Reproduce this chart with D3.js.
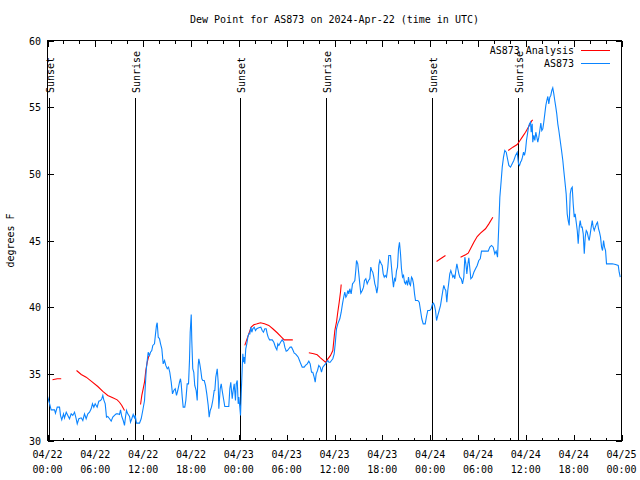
<!DOCTYPE html>
<html><head><meta charset="utf-8">
<script src="https://cdn.jsdelivr.net/npm/d3@7"></script>
<style>
html,body{margin:0;padding:0;background:#fff;}
svg text{font-family:"DejaVu Sans Mono","Liberation Mono",monospace;font-size:10px;fill:#000;}
</style></head>
<body><svg id="c" width="640" height="480"></svg>
<script>
// ---- data (hours since 2024-04-22 00:00 UTC, dew point °F) ----
const chartTitle = "Dew Point for AS873 on 2024-Apr-22 (time in UTC)";
const yLabel = "degrees F";
const seriesNames = ["AS873 Analysis", "AS873"];
const seriesColors = ["#ff0000", "#0a84ff"];
const yTicks = [30, 35, 40, 45, 50, 55, 60];
const xTickHours = [0, 6, 12, 18, 24, 30, 36, 42, 48, 54, 60, 66, 72];
const xTickLabels = [["04/22","00:00"],["04/22","06:00"],["04/22","12:00"],["04/22","18:00"],
  ["04/23","00:00"],["04/23","06:00"],["04/23","12:00"],["04/23","18:00"],
  ["04/24","00:00"],["04/24","06:00"],["04/24","12:00"],["04/24","18:00"],["04/25","00:00"]];
const sunHours = [0.29, 11.08, 24.25, 35.04, 48.33, 59.12];
const sunLabels = ["Sunset", "Sunrise", "Sunset", "Sunrise", "Sunset", "Sunrise"];

const observed = [[0,33.3],[0.21,32.87],[0.46,32.3],[0.88,32.3],[1.0,32.05],[1.22,32.5],[1.51,32.5],[1.63,31.88],[1.79,31.55],[2.01,32.0],[2.13,31.7],[2.35,32.12],[2.55,31.88],[2.76,31.63],[2.97,32.0],[3.17,31.88],[3.39,32.12],[3.6,31.63],[3.73,31.25],[3.93,31.63],[4.23,31.7],[4.43,31.5],[4.64,32.0],[4.85,31.63],[5.06,32.0],[5.27,32.12],[5.48,32.38],[5.64,32.75],[5.81,32.5],[5.98,32.75],[6.23,32.5],[6.44,32.95],[6.65,33.0],[6.81,33.13],[6.94,33.38],[7.06,33.05],[7.24,32.75],[7.4,31.75],[7.56,31.8],[7.78,31.63],[7.99,31.45],[8.19,31.75],[8.4,31.88],[8.62,32.0],[8.82,32.0],[9.03,31.95],[9.16,32.3],[9.32,31.8],[9.5,31.5],[9.66,31.13],[9.78,31.75],[9.91,32.25],[10.07,32.0],[10.29,31.8],[10.41,31.37],[10.57,31.63],[10.75,31.95],[10.91,31.7],[11.0,31.88],[11.16,31.3],[11.54,31.3],[11.75,31.63],[11.95,32.25],[12.17,33.0],[12.26,34.0],[12.38,35.25],[12.51,36.0],[12.63,36.62],[12.79,36.38],[12.92,36.62],[13.08,36.75],[13.21,37.13],[13.42,37.25],[13.55,38.0],[13.67,38.63],[13.76,38.83],[13.89,37.75],[14.05,37.63],[14.18,37.25],[14.34,36.88],[14.51,35.75],[14.68,36.0],[14.84,35.63],[15.02,35.38],[15.18,35.5],[15.34,35.12],[15.52,34.37],[15.68,33.5],[15.84,33.75],[16.02,33.88],[16.18,33.38],[16.34,33.75],[16.56,34.37],[16.68,34.63],[16.77,34.25],[16.9,33.25],[17.02,32.5],[17.22,32.5],[17.35,33.0],[17.52,34.25],[17.69,34.25],[17.81,36.0],[17.9,38.12],[18.03,39.45],[18.1,37.5],[18.22,35.38],[18.35,35.12],[18.47,34.13],[18.65,33.75],[18.78,33.0],[18.9,35.63],[18.98,36.13],[19.1,35.75],[19.23,35.25],[19.36,34.63],[19.48,34.5],[19.66,34.5],[19.82,34.13],[19.98,33.5],[20.16,32.63],[20.28,31.75],[20.41,32.25],[20.57,32.5],[20.73,33.0],[20.91,33.75],[20.99,33.75],[21.11,34.75],[21.29,35.38],[21.41,34.37],[21.49,32.38],[21.66,33.88],[21.79,34.25],[21.91,33.75],[22.08,33.13],[22.24,32.55],[22.54,32.55],[22.74,32.55],[22.87,33.88],[22.99,34.37],[23.17,33.13],[23.29,33.75],[23.42,34.25],[23.58,33.0],[23.67,34.25],[23.8,34.5],[23.92,32.75],[24.0,33.25],[24.12,32.5],[24.21,31.88],[24.3,33.5],[24.42,35.38],[24.5,36.5],[24.59,35.87],[24.67,36.25],[24.75,35.75],[24.87,36.88],[25.0,37.25],[25.13,37.75],[25.25,38.0],[25.38,38.0],[25.5,38.5],[25.63,38.12],[25.75,38.38],[25.93,38.5],[26.09,38.25],[26.25,38.38],[26.5,38.45],[26.76,38.5],[26.93,38.25],[27.09,38.12],[27.26,38.38],[27.43,38.38],[27.56,38.0],[27.68,37.75],[27.85,37.55],[28.19,37.55],[28.39,37.37],[28.6,37.0],[28.77,36.8],[28.89,37.25],[29.02,37.13],[29.23,37.37],[29.44,37.55],[29.64,37.37],[29.77,37.0],[29.94,36.7],[30.1,36.75],[30.27,36.88],[30.44,37.0],[30.61,37.0],[30.77,36.8],[30.95,36.55],[31.11,36.5],[31.27,36.38],[31.45,36.25],[31.61,36.0],[31.77,35.75],[31.95,35.5],[32.2,35.5],[32.36,35.63],[32.58,35.75],[32.78,35.95],[32.95,35.75],[33.12,35.12],[33.28,35.12],[33.45,34.75],[33.58,34.37],[33.7,35.0],[33.87,35.25],[34.03,35.63],[34.21,35.5],[34.37,35.12],[34.53,35.5],[34.71,35.63],[34.87,35.75],[35.0,35.87],[35.16,36.0],[35.29,35.87],[35.46,35.87],[35.62,36.0],[35.79,36.13],[35.96,36.5],[36.09,37.25],[36.25,38.38],[36.41,38.75],[36.67,39.13],[36.84,39.62],[37.0,40.25],[37.17,40.8],[37.29,41.12],[37.42,40.75],[37.54,40.88],[37.67,41.25],[37.79,41.0],[37.92,41.38],[38.09,41.0],[38.26,41.75],[38.42,41.87],[38.55,42.0],[38.67,42.75],[38.76,43.5],[38.92,43.25],[39.05,42.5],[39.17,41.75],[39.3,41.05],[39.48,41.25],[39.64,41.5],[39.76,42.0],[39.93,42.13],[40.1,41.75],[40.27,42.0],[40.43,42.13],[40.55,43.0],[40.68,42.75],[40.8,42.62],[40.93,42.25],[41.06,41.75],[41.18,41.5],[41.31,41.05],[41.43,41.5],[41.56,43.13],[41.68,43.5],[41.86,43.25],[41.98,43.13],[42.11,42.5],[42.24,42.25],[42.36,42.38],[42.52,42.25],[42.69,43.0],[42.81,43.88],[43.03,43.88],[43.15,43.0],[43.28,42.13],[43.4,41.5],[43.53,42.13],[43.65,42.0],[43.78,42.75],[43.9,43.0],[44.03,44.38],[44.15,44.87],[44.28,44.0],[44.4,42.88],[44.53,42.25],[44.66,42.38],[44.78,41.87],[44.91,41.75],[45.03,42.0],[45.16,41.63],[45.28,42.25],[45.41,41.75],[45.53,41.63],[45.66,42.25],[45.78,42.13],[45.91,41.75],[46.04,41.0],[46.16,40.5],[46.45,40.5],[46.63,40.37],[46.79,39.75],[46.95,39.13],[47.13,38.75],[47.38,38.75],[47.54,39.3],[47.7,39.75],[47.95,39.75],[48.13,39.88],[48.29,40.25],[48.42,40.3],[48.54,40.13],[48.67,39.75],[48.8,39.0],[48.96,39.38],[49.13,39.75],[49.3,40.13],[49.46,40.75],[49.59,41.25],[49.71,41.63],[49.84,41.38],[49.96,41.25],[50.09,40.37],[50.21,41.25],[50.34,41.87],[50.46,42.5],[50.59,42.75],[50.72,42.5],[50.84,42.25],[50.97,42.38],[51.09,42.13],[51.22,42.75],[51.35,43.25],[51.47,42.88],[51.6,42.5],[51.72,42.25],[51.9,42.13],[52.06,41.75],[52.22,42.25],[52.35,43.75],[52.48,43.25],[52.6,42.5],[52.73,43.25],[52.85,43.7],[52.98,42.88],[53.1,42.13],[53.28,42.25],[53.48,42.62],[53.69,42.88],[53.9,43.13],[54.1,43.5],[54.28,43.63],[54.44,44.2],[54.85,44.2],[55.28,44.2],[55.48,44.5],[55.7,44.63],[55.91,44.5],[56.11,44.0],[56.28,44.2],[56.45,43.75],[56.61,46.13],[56.74,48.25],[56.91,49.5],[57.04,50.5],[57.2,51.25],[57.36,51.75],[57.54,51.62],[57.7,51.13],[57.87,50.63],[58.08,50.5],[58.29,50.75],[58.49,51.0],[58.71,51.38],[58.92,51.62],[59.08,50.75],[59.21,50.63],[59.33,50.87],[59.46,51.0],[59.58,51.25],[59.71,51.62],[59.83,51.38],[59.96,51.75],[60.08,52.5],[60.21,53.0],[60.33,53.5],[60.46,53.75],[60.59,53.87],[60.67,53.12],[60.8,53.75],[60.87,52.37],[61.0,52.88],[61.13,52.5],[61.25,53.12],[61.38,52.75],[61.5,52.37],[61.63,52.75],[61.75,53.25],[61.88,53.8],[62.0,53.25],[62.13,53.38],[62.25,53.87],[62.38,54.5],[62.51,55.13],[62.63,55.5],[62.76,55.8],[62.88,55.25],[63.01,55.75],[63.13,55.88],[63.26,56.25],[63.38,56.45],[63.51,56.0],[63.63,55.5],[63.76,55.0],[63.88,54.5],[64.01,53.75],[64.14,53.25],[64.31,52.5],[64.48,51.75],[64.64,51.0],[64.76,50.25],[64.89,49.5],[65.06,48.5],[65.19,47.0],[65.31,46.5],[65.44,46.13],[65.57,48.5],[65.69,48.88],[65.82,49.0],[65.94,47.75],[66.07,46.75],[66.19,47.0],[66.32,46.37],[66.45,45.75],[66.57,44.75],[66.7,46.0],[66.82,46.5],[66.95,46.0],[67.07,46.0],[67.2,45.5],[67.33,44.0],[67.45,45.25],[67.58,45.75],[67.7,45.63],[67.83,45.25],[67.95,45.0],[68.08,45.5],[68.2,46.0],[68.33,46.5],[68.45,46.0],[68.58,45.75],[68.71,46.0],[68.87,46.25],[68.99,46.37],[69.12,45.88],[69.24,45.63],[69.37,45.25],[69.5,44.5],[69.62,44.25],[69.75,45.0],[69.87,44.5],[70.0,44.25],[70.12,43.25],[70.41,43.25],[70.84,43.25],[71.25,43.2],[71.59,43.13],[71.71,42.62],[71.84,42.25]];

const analysis = [[0.63,34.55],[1.22,34.63],[1.72,34.63], null,
  [3.64,35.25],[4.23,34.95],[4.85,34.75],[5.48,34.45],[6.31,34.05],[6.94,33.68],[7.56,33.38],[8.19,33.2],[8.74,33.05],[9.03,32.87],[9.32,32.63],[9.66,32.25], null,
  [11.67,32.7],[11.83,33.38],[12.0,33.88],[12.17,34.37],[12.33,35.25],[12.51,35.87],[12.67,36.25],[12.83,36.5], null,
  [24.75,37.13],[25.18,37.88],[25.55,38.5],[25.88,38.68],[26.3,38.75],[26.72,38.83],[27.22,38.75],[27.76,38.63],[28.26,38.38],[28.81,38.08],[29.35,37.75],[29.69,37.55],[30.77,37.55], null,
  [32.78,36.58],[33.4,36.5],[33.83,36.43],[34.24,36.2],[34.87,35.87],[35.08,36.05],[35.5,36.38],[35.79,36.75],[36.04,38.25],[36.25,38.87],[36.41,39.62],[36.59,40.37],[36.75,41.12],[36.84,41.7], null,
  [48.8,43.43],[49.3,43.63],[49.92,43.88], null,
  [51.81,43.75],[52.44,43.93],[52.77,44.05],[53.06,44.38],[53.48,44.87],[53.9,45.3],[54.31,45.55],[54.94,45.88],[55.36,46.25],[55.86,46.75], null,
  [57.79,51.75],[58.37,52.0],[58.92,52.2],[59.12,52.37],[59.55,52.75],[59.96,53.12],[60.37,53.55],[60.71,53.95],[60.87,54.05]];

// ---- drawing ----
const svg = d3.select("#c");
const L = 47.5, R = 621.5, T = 40.5, B = 440.5;
const x = d3.scaleLinear().domain([0, 72]).range([L, R]);
const y = d3.scaleLinear().domain([30, 60]).range([B, T]);

// title & y label
svg.append("text").attr("x", (L + R) / 2).attr("y", 23).attr("text-anchor", "middle").text(chartTitle);
svg.append("text").attr("transform", `translate(14,${(T + B) / 2}) rotate(-90)`)
  .attr("text-anchor", "middle").text(yLabel);

// axes (inward ticks)
const gAx = svg.append("g").attr("shape-rendering", "crispEdges");
const minorHours = d3.range(0, 73, 2).filter(h => h % 6 !== 0);
function tickAxis(axisFn, scale, vals, size, transform) {
  const g = gAx.append("g").attr("transform", transform)
    .call(axisFn(scale).tickValues(vals).tickSizeInner(size).tickSizeOuter(0).tickFormat(""));
  g.select(".domain").remove();
  g.selectAll("line").attr("stroke", "#000");
  return g;
}
tickAxis(d3.axisBottom, x, xTickHours, -6, `translate(0,${B})`);
tickAxis(d3.axisBottom, x, minorHours, -3, `translate(0,${B})`);
tickAxis(d3.axisTop, x, xTickHours, -6, `translate(0,${T})`);
tickAxis(d3.axisTop, x, minorHours, -3, `translate(0,${T})`);
tickAxis(d3.axisLeft, y, yTicks, -6, `translate(${L},0)`);
tickAxis(d3.axisRight, y, yTicks, -6, `translate(${R},0)`);

// tick labels
const xl = svg.append("g");
xTickHours.forEach((h, i) => {
  const t = xl.append("text").attr("text-anchor", "middle");
  t.append("tspan").attr("x", x(h)).attr("y", 458).text(xTickLabels[i][0]);
  t.append("tspan").attr("x", x(h)).attr("y", 473).text(xTickLabels[i][1]);
});
svg.append("g").selectAll("text").data(yTicks).join("text")
  .attr("x", 41).attr("y", d => y(d) + 4).attr("text-anchor", "end").text(d => d);

// sunrise / sunset markers
const sg = svg.append("g");
sunHours.forEach((h, i) => {
  const px = Math.floor(x(h));
  sg.append("line").attr("x1", px + 0.5).attr("x2", px + 0.5)
    .attr("y1", 98).attr("y2", B).attr("stroke", "#000").attr("shape-rendering", "crispEdges");
  sg.append("text").attr("transform", `translate(${px + 4.5},93) rotate(-90)`)
    .attr("text-anchor", "start").text(sunLabels[i]);
});

// series
const line = d3.line().defined(d => d != null).x(d => x(d[0])).y(d => y(d[1]));
svg.append("path").datum(analysis).attr("d", line).attr("fill", "none")
  .attr("stroke", seriesColors[0]).attr("stroke-width", 1.1);
svg.append("path").datum(observed).attr("d", line).attr("fill", "none")
  .attr("stroke", seriesColors[1]).attr("stroke-width", 1.1);

// border
svg.append("rect").attr("x", L).attr("y", T).attr("width", R - L).attr("height", B - T)
  .attr("fill", "none").attr("stroke", "#000").attr("shape-rendering", "crispEdges");

// legend
const lg = svg.append("g");
seriesNames.forEach((n, i) => {
  const yy = 50 + i * 13;
  lg.append("text").attr("x", 574).attr("y", yy + 4).attr("text-anchor", "end").text(n);
  lg.append("line").attr("x1", 581).attr("x2", 610).attr("y1", yy + 0.5).attr("y2", yy + 0.5)
    .attr("stroke", seriesColors[i]).attr("shape-rendering", "crispEdges");
});
</script></body></html>
